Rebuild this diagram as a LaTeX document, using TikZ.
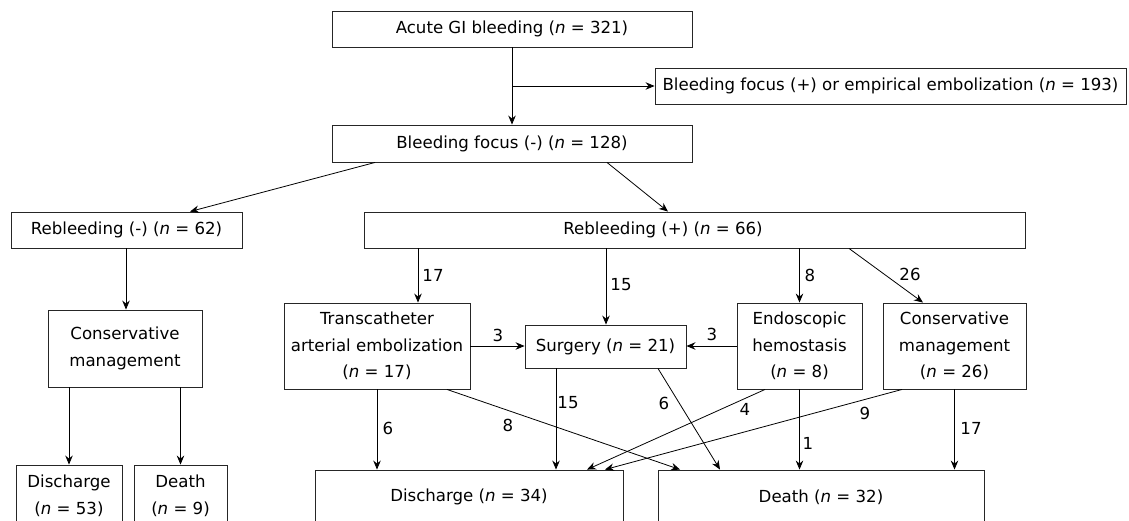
\documentclass[tikz,border=0pt]{standalone}
\usepackage{fontspec}
\setmainfont{DejaVu Sans}
\usetikzlibrary{arrows.meta}
\begin{document}
\begin{tikzpicture}[x=1pt,y=-1pt,
  box/.style={draw=black!85,line width=0.9pt,rectangle,inner sep=0pt,align=center,
    font=\fontsize{16.6}{26.5}\selectfont},
  arr/.style={draw=black,line width=0.8pt,-{Stealth[length=9pt,width=7.5pt,inset=3pt]}},
  lab/.style={font=\fontsize{16.6}{20}\selectfont,inner sep=0pt}]
\useasboundingbox (0,0) rectangle (1129,520);
\clip (0,0) rectangle (1129,520);
\fill[white] (0,0) rectangle (1129,520);
\foreach \v in {126,190,375,418,447,556,587,605,606,607,658,668,680,720,765,849,902,923}
  \coordinate (x\v) at (\v,0);
% boxes
\node[box,minimum width=360pt,minimum height=36pt] (top) at (512,29) {Acute GI bleeding (\textit{n} = 321)};
\node[box,minimum width=471pt,minimum height=36pt] (emb) at (890.5,86) {Bleeding focus (+) or empirical embolization (\textit{n} = 193)};
\node[box,minimum width=360pt,minimum height=37pt] (bfm) at (512,143.5) {Bleeding focus (-) (\textit{n} = 128)};
\node[box,minimum width=231pt,minimum height=36pt] (rbm) at (126.5,230) {Rebleeding (-) (\textit{n} = 62)};
\node[box,minimum width=661pt,minimum height=36pt] (rbp) at (694.5,230) {\hspace*{-63pt}Rebleeding (+) (\textit{n} = 66)};
\node[box,minimum width=154pt,minimum height=77pt] (cml) at (125,348.5) {Conservative\\management};
\node[box,minimum width=186pt,minimum height=86pt] (tae) at (377,346) {Transcatheter\\arterial embolization\\(\textit{n} = 17)};
\node[box,minimum width=161pt,minimum height=43pt] (surg) at (605.5,346.5) {Surgery (\textit{n} = 21)};
\node[box,minimum width=125pt,minimum height=86pt] (endo) at (799.5,346) {Endoscopic\\hemostasis\\(\textit{n} = 8)};
\node[box,minimum width=143pt,minimum height=86pt] (cmr) at (954.5,346) {Conservative\\management\\(\textit{n} = 26)};
\node[box,minimum width=106pt,minimum height=62pt] (dl) at (69,496) {Discharge\\(\textit{n} = 53)};
\node[box,minimum width=93pt,minimum height=62pt] (xl) at (180.5,496) {Death\\(\textit{n} = 9)};
\node[box,minimum width=308pt,minimum height=54pt] (dis) at (469,497) {Discharge (\textit{n} = 34)};
\node[box,minimum width=326pt,minimum height=54pt] (dth) at (821,497) {Death (\textit{n} = 32)};
% connectors
\draw[arr] (top) -- (bfm);
\draw[arr] (top.south |- emb.west) -- (emb.west);
\draw[arr] (bfm.south -| x375) -- (rbm.north -| x190);
\draw[arr] (bfm.south -| x607) -- (rbp.north -| x668);
\draw[arr] (rbm.south -| x126) -- (cml.north -| x126);
\draw[arr] (cml.south -| dl) -- (dl.north);
\draw[arr] (cml.south -| xl) -- (xl.north);
\draw[arr] (rbp.south -| x418) -- (tae.north -| x418);
\draw[arr] (rbp.south -| x606) -- (surg.north -| x606);
\draw[arr] (rbp.south -| endo) -- (endo.north);
\draw[arr] (rbp.south -| x849) -- (cmr.north -| x923);
\draw[arr] (tae.east) -- (tae.east -| surg.west);
\draw[arr] (endo.west) -- (endo.west -| surg.east);
\draw[arr] (tae.south) -- (tae.south |- dis.north);
\draw[arr] (tae.south -| x447) -- (dth.north -| x680);
\draw[arr] (surg.south -| x556) -- (dis.north -| x556);
\draw[arr] (surg.south -| x658) -- (dth.north -| x720);
\draw[arr] (endo.south -| x765) -- (dis.north -| x587);
\draw[arr] (endo.south) -- (endo.south |- dth.north);
\draw[arr] (cmr.south -| x902) -- (dis.north -| x605);
\draw[arr] (cmr.south) -- (cmr.south |- dth.north);
% labels
\node[lab] (l1) at (433,275) {17};
\node[lab] (l2) at (621,285) {15};
\node[lab] (l3) at (810,275) {8};
\node[lab] (l4) at (910,274) {26};
\node[lab] (l5) at (498,335) {3};
\node[lab] (l6) at (712,334) {3};
\node[lab] (l7) at (388,428) {6};
\node[lab] (l8) at (508,425) {8};
\node[lab] (l9) at (568,403) {15};
\node[lab] (l10) at (664,403) {6};
\node[lab] (l11) at (745,409) {4};
\node[lab] (l12) at (808,443) {1};
\node[lab] (l13) at (865,413) {9};
\node[lab] (l14) at (971,428) {17};
\end{tikzpicture}
\end{document}
